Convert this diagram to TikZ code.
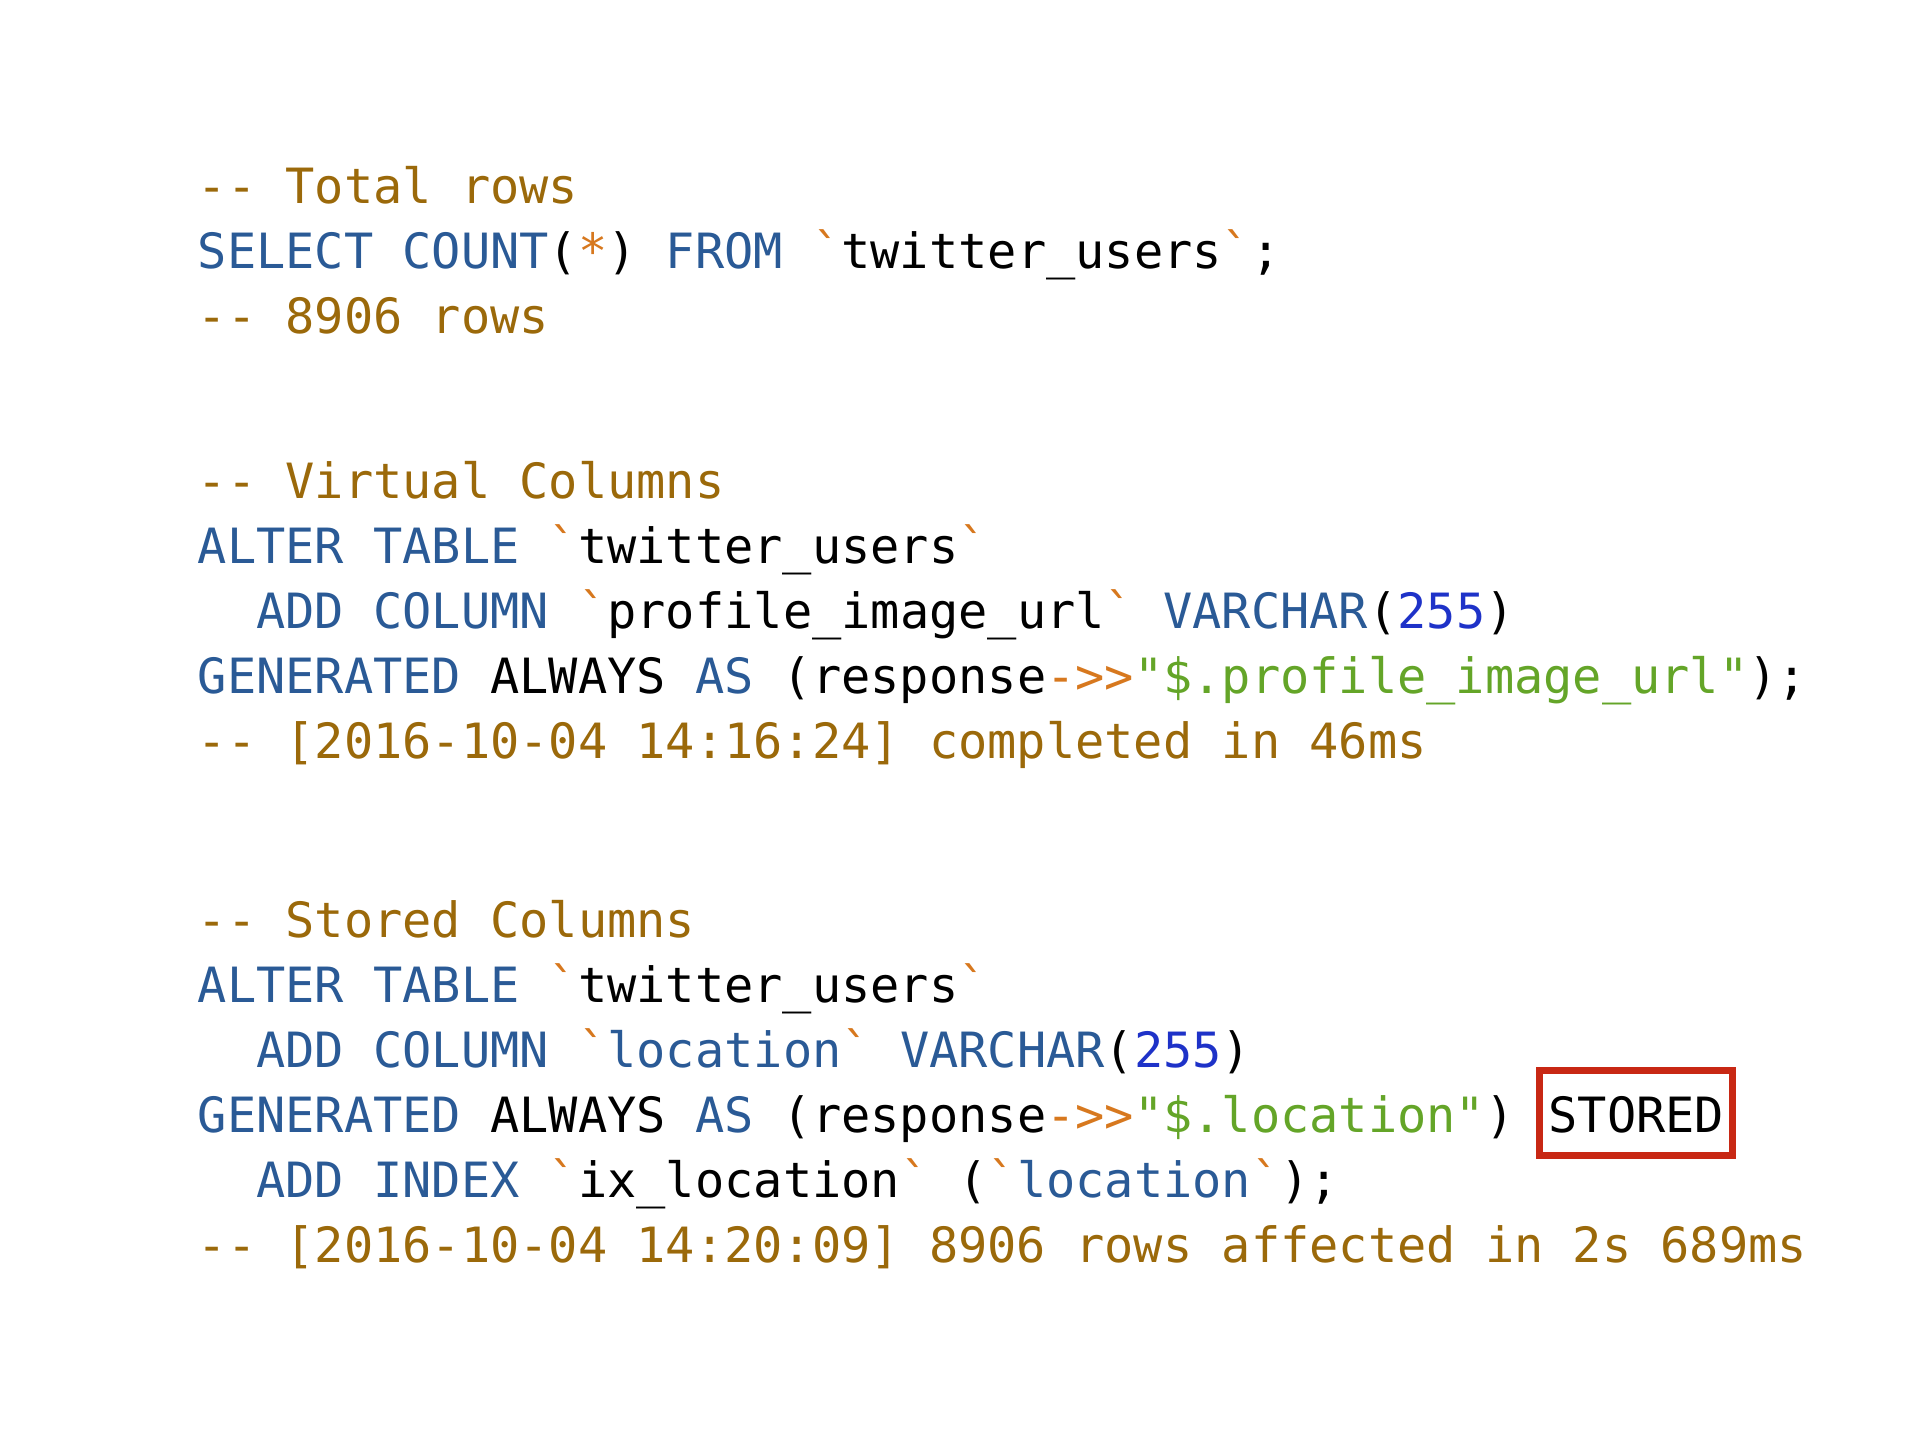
\documentclass[tikz,border=0pt]{standalone}
\usepackage{fontspec}
\usetikzlibrary{positioning}
\newfontfamily\codefont[Ligatures=TeXOff]{DejaVu Sans Mono}

\definecolor{cmtbrown}{RGB}{155,105,10}
\definecolor{kwblue}{RGB}{42,90,150}
\definecolor{numblue}{RGB}{30,50,200}
\definecolor{oporange}{RGB}{215,120,30}
\definecolor{strgreen}{RGB}{100,165,40}
\definecolor{boxred}{RGB}{200,40,20}

\newcommand{\cmt}[1]{\textcolor{cmtbrown}{#1}}
\newcommand{\kw}[1]{\textcolor{kwblue}{#1}}
\newcommand{\num}[1]{\textcolor{numblue}{#1}}
\newcommand{\op}[1]{\textcolor{oporange}{#1}}
\newcommand{\str}[1]{\textcolor{strgreen}{#1}}

\tikzset{every picture/.style={line width=0.75pt}}
\tikzset{code/.style={anchor=base west,inner sep=0pt,font=\codefont\fontsize{24.3}{30}\selectfont}}

\begin{document}
\begin{tikzpicture}[x=0.5pt,y=0.5pt,yscale=-1,xscale=1]
\fill [white] (0,0) rectangle (1920,1440);
\useasboundingbox (0,0) rectangle (1920,1440);

% total rows
\draw (197,203) node (totalA) [code] {\cmt{-- Total rows}};
\draw (197,268) node (totalB) [code] {\kw{SELECT COUNT}(\op{*}) \kw{FROM} \op{`}twitter\_users\op{`};};
\draw (197,333) node (totalC) [code] {\cmt{-- 8906 rows}};

% virtual columns
\draw (197,498) node (virtA) [code] {\cmt{-- Virtual Columns}};
\draw (197,563) node (virtB) [code] {\kw{ALTER TABLE} \op{`}twitter\_users\op{`}};
\draw (255.6,628) node (virtC) [code] {\kw{ADD COLUMN} \op{`}profile\_image\_url\op{`} \kw{VARCHAR}(\num{255})};
\draw (197,693) node (virtD) [code] {\kw{GENERATED} ALWAYS \kw{AS} (response\op{->>}\str{"\$.profile\_image\_url"});};
\draw (197,758) node (virtE) [code] {\cmt{-- [2016-10-04 14:16:24] completed in 46ms}};

% stored columns
\draw (197,937) node (storA) [code] {\cmt{-- Stored Columns}};
\draw (197,1002) node (storB) [code] {\kw{ALTER TABLE} \op{`}twitter\_users\op{`}};
\draw (255.6,1067) node (storC) [code] {\kw{ADD COLUMN} \op{`}\kw{location}\op{`} \kw{VARCHAR}(\num{255})};
\draw (197,1132) node (storD) [code] {\kw{GENERATED} ALWAYS \kw{AS} (response\op{->>}\str{"\$.location"})};
\node (stored) [code,right=10.5pt of storD.base east,anchor=base west,draw=boxred,line width=3.5pt,inner xsep=4.4pt,inner ysep=5.75pt,text height=25pt,text depth=6pt] {STORED};
\draw (255.6,1197) node (storE) [code] {\kw{ADD INDEX} \op{`}ix\_location\op{`} (\op{`}\kw{location}\op{`});};
\draw (197,1262) node (storF) [code] {\cmt{-- [2016-10-04 14:20:09] 8906 rows affected in 2s 689ms}};
\end{tikzpicture}
\end{document}
